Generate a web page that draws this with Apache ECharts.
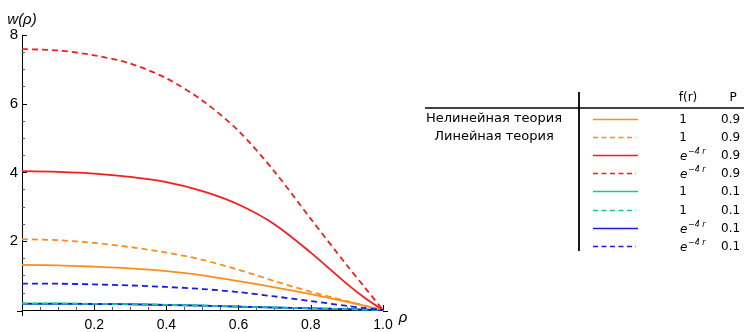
<!DOCTYPE html>
<html>
<head>
<meta charset="utf-8">
<script src="https://cdn.jsdelivr.net/npm/echarts@6/dist/echarts.min.js"></script>
<style>
  html, body { margin: 0; padding: 0; background: #fff; }
  #chart { width: 744px; height: 332px; }
</style>
</head>
<body>
<div id="chart"></div>
<script>
// Radial coordinate samples
const rho = [0, 0.1, 0.2, 0.3, 0.4, 0.5, 0.6, 0.7, 0.8, 0.9, 0.95, 1.0];

// Deflection profiles w(rho)
const orangeSolid  = [1.31, 1.30, 1.26, 1.21, 1.13, 1.01, 0.84, 0.66, 0.46, 0.24, 0.12, 0];
const orangeDashed = [2.06, 2.03, 1.95, 1.83, 1.67, 1.46, 1.17, 0.84, 0.53, 0.26, 0.13, 0];
const redSolid     = [4.04, 4.02, 3.97, 3.87, 3.72, 3.46, 3.07, 2.49, 1.67, 0.76, 0.35, 0];
const redDashed    = [7.59, 7.55, 7.41, 7.17, 6.74, 6.09, 5.21, 4.02, 2.65, 1.30, 0.65, 0];
const greenSolid   = [0.19, 0.19, 0.18, 0.17, 0.15, 0.13, 0.10, 0.075, 0.05, 0.025, 0.012, 0];
const greenDashed  = [0.185, 0.185, 0.178, 0.168, 0.148, 0.128, 0.10, 0.073, 0.048, 0.024, 0.011, 0];
const blueSolid    = [0.18, 0.18, 0.175, 0.165, 0.145, 0.125, 0.098, 0.072, 0.047, 0.023, 0.011, 0];
const blueDashed   = [0.77, 0.765, 0.745, 0.715, 0.67, 0.61, 0.52, 0.395, 0.26, 0.12, 0.055, 0];

// Legend table rows
const rowF = ['1', '1', 'exp', 'exp', '1', '1', 'exp', 'exp'];
const rowP = ['0.9', '0.9', '0.9', '0.9', '0.1', '0.1', '0.1', '0.1'];
const theoryLabels = ['Нелинейная теория', 'Линейная теория'];

const ORANGE = '#ff8c1e';
const RED = '#f51c1c';
const GREEN = '#17c896';
const BLUE = '#1a1ae6';

// Drawing order: dashed teal goes over the solid blue line near the axis
const curves = [
  { data: orangeSolid,  color: ORANGE, dashed: false },
  { data: orangeDashed, color: ORANGE, dashed: true },
  { data: redSolid,     color: RED,    dashed: false },
  { data: redDashed,    color: RED,    dashed: true },
  { data: greenSolid,   color: GREEN,  dashed: false },
  { data: blueSolid,    color: BLUE,   dashed: false },
  { data: greenDashed,  color: GREEN,  dashed: true },
  { data: blueDashed,   color: BLUE,   dashed: true }
];
const legendStyles = [
  { color: ORANGE, dashed: false }, { color: ORANGE, dashed: true },
  { color: RED, dashed: false },    { color: RED, dashed: true },
  { color: GREEN, dashed: false },  { color: GREEN, dashed: true },
  { color: BLUE, dashed: false },   { color: BLUE, dashed: true }
];

const FONT = 'Liberation Sans, Arial, sans-serif';
const TFONT = 'DejaVu Sans, sans-serif';

const series = curves.map(c => ({
  type: 'line',
  data: rho.map((r, i) => [r, c.data[i]]),
  smooth: 0.3,
  showSymbol: false,
  lineStyle: {
    color: c.color,
    width: 1.8,
    type: c.dashed ? [6, 4] : 'solid'
  },
  z: c.dashed ? 3 : 2
}));

// Legend table graphics
const graphic = [];
const rowY0 = 118.5, rowStep = 18.2;
graphic.push({ type: 'line', shape: { x1: 425, y1: 108, x2: 744, y2: 108 },
  style: { stroke: '#000', lineWidth: 1.4 } });
graphic.push({ type: 'line', shape: { x1: 579, y1: 92, x2: 579, y2: 251 },
  style: { stroke: '#000', lineWidth: 1.8 } });
graphic.push({ type: 'text', x: 688, y: 98, style: { text: 'f(r)', font: '12px ' + TFONT, fill: '#000', textAlign: 'center', textVerticalAlign: 'middle' } });
graphic.push({ type: 'text', x: 733, y: 98, style: { text: 'P', font: '12px ' + TFONT, fill: '#000', textAlign: 'center', textVerticalAlign: 'middle' } });
theoryLabels.forEach((t, i) => {
  graphic.push({ type: 'text', x: 494, y: rowY0 + i * rowStep,
    style: { text: t, font: '13px ' + TFONT, fill: '#000', textAlign: 'center', textVerticalAlign: 'middle' } });
});
legendStyles.forEach((s, i) => {
  const y = Math.round(rowY0 + i * rowStep) + 0.5;
  graphic.push({ type: 'line', shape: { x1: 593, y1: y, x2: s.dashed ? 636 : 638, y2: y },
    style: { stroke: s.color, lineWidth: 1.6, lineDash: s.dashed ? [5, 3.5] : null } });
  if (rowF[i] === '1') {
    graphic.push({ type: 'text', x: 683, y: y, style: { text: '1', font: '12px ' + TFONT, fill: '#000', textAlign: 'center', textVerticalAlign: 'middle' } });
  } else {
    graphic.push({ type: 'text', x: 680, y: y + 1, style: { text: 'e', font: 'italic 12px ' + TFONT, fill: '#000', textAlign: 'left', textVerticalAlign: 'middle' } });
    graphic.push({ type: 'text', x: 688, y: y - 4, style: { text: '\u22124 r', font: 'italic 8px ' + TFONT, fill: '#000', textAlign: 'left', textVerticalAlign: 'middle' } });
  }
  graphic.push({ type: 'text', x: 721, y: y, style: { text: rowP[i], font: '12px ' + TFONT, fill: '#000', textAlign: 'left', textVerticalAlign: 'middle' } });
});
// Short axis overshoots past the plot frame
graphic.push({ type: 'line', shape: { x1: 17, y1: 311.5, x2: 22, y2: 311.5 }, style: { stroke: '#000', lineWidth: 1 } });
graphic.push({ type: 'line', shape: { x1: 383, y1: 311.5, x2: 388, y2: 311.5 }, style: { stroke: '#000', lineWidth: 1 } });
graphic.push({ type: 'line', shape: { x1: 22.5, y1: 311, x2: 22.5, y2: 316 }, style: { stroke: '#000', lineWidth: 1 } });

const chart = echarts.init(document.getElementById('chart'), null, { renderer: 'canvas' });
chart.setOption({
  animation: false,
  backgroundColor: '#fff',
  grid: { left: 22, top: 35, width: 361, height: 276, containLabel: false },
  xAxis: {
    type: 'value', min: 0, max: 1, interval: 0.2,
    name: 'ρ', nameLocation: 'end', nameGap: 13,
    nameTextStyle: { fontFamily: FONT, fontSize: 15, fontStyle: 'italic', color: '#000', verticalAlign: 'top' },
    axisLine: { onZero: false, lineStyle: { color: '#000', width: 1 } },
    axisTick: { inside: true, length: 5, lineStyle: { color: '#000' } },
    minorTick: { show: true, splitNumber: 4, length: 3, lineStyle: { color: '#555' } },
    splitLine: { show: false },
    axisLabel: {
      color: '#000', fontFamily: FONT, fontSize: 14, margin: 8,
      formatter: v => (v === 0 ? '' : v.toFixed(1))
    }
  },
  yAxis: {
    type: 'value', min: 0, max: 8, interval: 2,
    name: 'w(ρ)', nameLocation: 'end', nameGap: 11,
    nameTextStyle: { fontFamily: FONT, fontSize: 15, fontStyle: 'italic', color: '#000', align: 'center', verticalAlign: 'middle' },
    axisLine: { onZero: false, lineStyle: { color: '#000', width: 1 } },
    axisTick: { inside: true, length: 5, lineStyle: { color: '#000' } },
    minorTick: { show: true, splitNumber: 4, length: 3, lineStyle: { color: '#555' } },
    splitLine: { show: false },
    axisLabel: {
      color: '#000', fontFamily: FONT, fontSize: 15, margin: 4,
      formatter: v => (v === 0 ? '' : String(v))
    }
  },
  series: series,
  graphic: graphic
});
</script>
</body>
</html>
